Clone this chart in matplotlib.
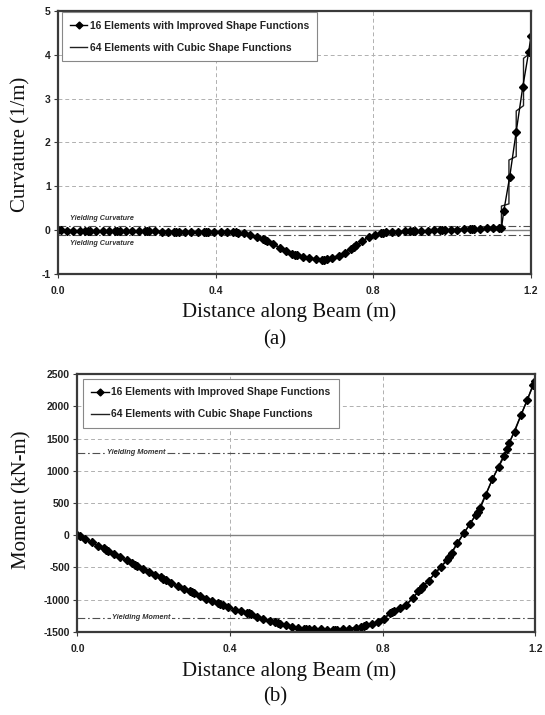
import matplotlib.pyplot as plt

SANS = ['Liberation Sans', 'DejaVu Sans']
SERIF = ['Liberation Serif', 'DejaVu Serif']

# stations along the beam for the 16-element model (6 points per element)
x16 = [0.0, 0.006, 0.021, 0.0375, 0.054, 0.069,
       0.075, 0.081, 0.096, 0.1125, 0.129, 0.144,
       0.15, 0.156, 0.171, 0.1875, 0.204, 0.219,
       0.225, 0.231, 0.246, 0.2625, 0.279, 0.294,
       0.3, 0.306, 0.321, 0.3375, 0.354, 0.369,
       0.375, 0.381, 0.396, 0.4125, 0.429, 0.444,
       0.45, 0.456, 0.471, 0.4875, 0.504, 0.519,
       0.525, 0.531, 0.546, 0.5625, 0.579, 0.594,
       0.6, 0.606, 0.621, 0.6375, 0.654, 0.669,
       0.675, 0.681, 0.696, 0.7125, 0.729, 0.744,
       0.75, 0.756, 0.771, 0.7875, 0.804, 0.819,
       0.825, 0.831, 0.846, 0.8625, 0.879, 0.894,
       0.9, 0.906, 0.921, 0.9375, 0.954, 0.969,
       0.975, 0.981, 0.996, 1.0125, 1.029, 1.044,
       1.05, 1.056, 1.071, 1.0875, 1.104, 1.119,
       1.125, 1.131, 1.146, 1.1625, 1.179, 1.194,
       1.2]

curv16 = [0.0, -0.005, -0.01, -0.01, -0.012, -0.015,
          -0.015, -0.016, -0.018, -0.02, -0.02, -0.022,
          -0.022, -0.023, -0.025, -0.025, -0.027, -0.028,
          -0.028, -0.029, -0.03, -0.031, -0.032, -0.033,
          -0.033, -0.034, -0.035, -0.036, -0.037, -0.038,
          -0.038, -0.039, -0.04, -0.042, -0.045, -0.05,
          -0.052, -0.055, -0.075, -0.11, -0.15, -0.2,
          -0.22, -0.25, -0.32, -0.40, -0.47, -0.54,
          -0.56, -0.575, -0.61, -0.64, -0.66, -0.67,
          -0.67, -0.665, -0.635, -0.58, -0.51, -0.42,
          -0.39, -0.35, -0.25, -0.16, -0.10, -0.06,
          -0.055, -0.05, -0.04, -0.035, -0.03, -0.025,
          -0.022, -0.02, -0.015, -0.01, -0.005, 0.0,
          0.003, 0.006, 0.01, 0.015, 0.02, 0.025,
          0.027, 0.03, 0.035, 0.04, 0.045, 0.05,
          0.05, 0.44, 1.22, 2.25, 3.26, 4.06,
          4.43]

mom16 = [0, -18, -62, -112, -160, -205,
         -222, -240, -288, -340, -390, -436,
         -455, -472, -516, -565, -612, -655,
         -674, -693, -745, -790, -830, -870,
         -885, -900, -940, -982, -1023, -1058,
         -1072, -1088, -1120, -1155, -1180, -1200,
         -1210, -1222, -1260, -1296, -1325, -1350,
         -1360, -1372, -1398, -1420, -1440, -1448,
         -1450, -1452, -1456, -1460, -1465, -1468,
         -1468, -1466, -1460, -1450, -1436, -1415,
         -1405, -1394, -1375, -1350, -1300, -1212,
         -1190, -1172, -1132, -1075, -980, -870,
         -832, -790, -706, -590, -487, -390,
         -335, -270, -115, 28, 175, 315,
         365, 420, 630, 865, 1055, 1230,
         1330, 1425, 1606, 1860, 2095, 2330,
         2396]

# 64-element cubic model (curvature is linear per element, jumps at nodes)
x64_curv = [0.0, 0.0375, 0.075, 0.1125, 0.15, 0.1875, 0.225, 0.2625, 0.3,
            0.3375, 0.375, 0.4125, 0.45, 0.4875, 0.525, 0.5625, 0.6, 0.6375,
            0.675, 0.7125, 0.75, 0.7875, 0.825, 0.8625, 0.9, 0.9375, 0.975,
            1.0125, 1.05, 1.0875, 1.125, 1.125, 1.144, 1.144, 1.1625, 1.1625,
            1.181, 1.181, 1.2]
curv64 = [0.0, -0.01, -0.015, -0.02, -0.022, -0.025, -0.028, -0.031, -0.033,
          -0.036, -0.038, -0.042, -0.052, -0.11, -0.22, -0.40, -0.56, -0.64,
          -0.67, -0.58, -0.39, -0.16, -0.055, -0.035, -0.022, -0.01, 0.003,
          0.015, 0.027, 0.04, 0.05, 0.55, 0.60, 1.60, 1.68, 2.72,
          2.84, 3.92, 4.05]

x64_mom = [0.0, 0.0375, 0.075, 0.1125, 0.15, 0.1875, 0.225, 0.2625, 0.3,
           0.3375, 0.375, 0.4125, 0.45, 0.4875, 0.525, 0.5625, 0.6, 0.6375,
           0.675, 0.7125, 0.75, 0.7875, 0.825, 0.8625, 0.9, 0.9375, 0.975,
           1.0125, 1.05, 1.0875, 1.125, 1.1625, 1.2]
mom64 = [0, -112, -222, -340, -455, -565, -674, -790, -885,
         -982, -1072, -1155, -1210, -1296, -1360, -1420, -1450, -1460,
         -1468, -1450, -1405, -1350, -1190, -1075, -832, -590, -335,
         28, 365, 865, 1330, 1860, 2396]

yield_curv = 0.1
yield_mom = 1280

xticks = [0.0, 0.4, 0.8, 1.2]
curv_ticks = [-1, 0, 1, 2, 3, 4, 5]
mom_ticks = [-1500, -1000, -500, 0, 500, 1000, 1500, 2000, 2500]

lab16 = '16 Elements with Improved Shape Functions'
lab64 = '64 Elements with Cubic Shape Functions'

fig = plt.figure(figsize=(5.45, 7.15), dpi=100)
ax1 = fig.add_axes([0.107, 0.6168, 0.8673, 0.3678])
ax2 = fig.add_axes([0.1420, 0.1161, 0.8400, 0.3608])


def style_axes(ax, yticks, ylim):
    ax.set_xlim(0, 1.2)
    ax.set_ylim(*ylim)
    ax.set_xticks(xticks)
    ax.set_xticklabels(['%.1f' % t for t in xticks])
    ax.set_yticks(yticks)
    ax.set_yticklabels([str(t) for t in yticks])
    ax.grid(True, color='#b0b0b0', linestyle=(0, (4, 3)), linewidth=0.7)
    ax.set_axisbelow(True)
    for s in ax.spines.values():
        s.set_linewidth(1.6)
        s.set_color('#3a3a3a')
        s.set_zorder(6)
    ax.tick_params(axis='x', length=3, pad=5.5, width=0.8, color='#3a3a3a')
    ax.tick_params(axis='y', length=3, pad=2.5, width=0.8, color='#3a3a3a')
    for lbl in ax.get_xticklabels() + ax.get_yticklabels():
        lbl.set_family(SANS)
        lbl.set_fontweight('bold')
        lbl.set_fontsize(7.5)
        lbl.set_color('#222222')


def add_legend(ax, anchor):
    leg = ax.legend(loc='upper left', bbox_to_anchor=anchor, borderaxespad=0,
                    fancybox=False, framealpha=1, edgecolor='#888888',
                    prop={'family': SANS, 'weight': 'bold', 'size': 7.4},
                    handlelength=1.7, handletextpad=0.25, labelspacing=1.2,
                    borderpad=0.8, markerscale=0.8)
    leg.get_frame().set_linewidth(0.8)
    leg.set_zorder(8)
    for t in leg.get_texts():
        t.set_color('#222222')


dashdot = (0, (7, 2.5, 1.5, 2.5))

# (a) curvature
style_axes(ax1, curv_ticks, (-1, 5))
ax1.axhline(0, color='#808080', linewidth=1.0, zorder=2)
for yv in (yield_curv, -yield_curv):
    ax1.axhline(yv, color='#505050', linewidth=0.8, linestyle=dashdot, zorder=2)
ax1.plot(x16, curv16, color='black', linewidth=1.0, marker='D',
         markersize=4.4, label=lab16, zorder=4)
ax1.plot(x64_curv, curv64, color='#202020', linewidth=1.0, label=lab64, zorder=3)
ax1.text(0.03, 0.27, 'Yielding Curvature', family=SANS, fontsize=5.2,
         fontweight='bold', style='italic', color='#333333', va='center')
ax1.text(0.03, -0.31, 'Yielding Curvature', family=SANS, fontsize=5.2,
         fontweight='bold', style='italic', color='#333333', va='center')
add_legend(ax1, (0.007, 0.995))

# (b) moment
style_axes(ax2, mom_ticks, (-1500, 2500))
ax2.axhline(0, color='#808080', linewidth=1.0, zorder=2)
for yv in (yield_mom, -yield_mom):
    ax2.axhline(yv, color='#505050', linewidth=0.8, linestyle=dashdot, zorder=2)
ax2.plot(x16, mom16, color='black', linewidth=1.0, marker='D',
         markersize=4.4, label=lab16, zorder=4)
ax2.plot(x64_mom, mom64, color='#202020', linewidth=1.0, label=lab64, zorder=3)
ax2.text(0.078, yield_mom, 'Yielding Moment', family=SANS, fontsize=5.3,
         fontweight='bold', style='italic', color='#333333', va='center',
         bbox=dict(facecolor='white', edgecolor='none', pad=1.0), zorder=3)
ax2.text(0.092, -yield_mom, 'Yielding Moment', family=SANS, fontsize=5.3,
         fontweight='bold', style='italic', color='#333333', va='center',
         bbox=dict(facecolor='white', edgecolor='none', pad=1.0), zorder=3)
add_legend(ax2, (0.012, 0.981))

# axis titles and panel captions
lab_kw = dict(family=SERIF, fontsize=15, color='#111111', ha='center', va='center')
fig.text(21 / 545, 1 - 144 / 715, 'Curvature (1/m)', rotation=90, **lab_kw)
fig.text(289 / 545, 1 - 312 / 715, 'Distance along Beam (m)', **lab_kw)
fig.text(275 / 545, 1 - 340 / 715, '(a)', **lab_kw)
fig.text(22 / 545, 1 - 500 / 715, 'Moment (kN-m)', rotation=90, **lab_kw)
fig.text(289 / 545, 1 - 671 / 715, 'Distance along Beam (m)', **lab_kw)
fig.text(275 / 545, 1 - 697 / 715, '(b)', **lab_kw)

fig.savefig('out.png', dpi=100)
